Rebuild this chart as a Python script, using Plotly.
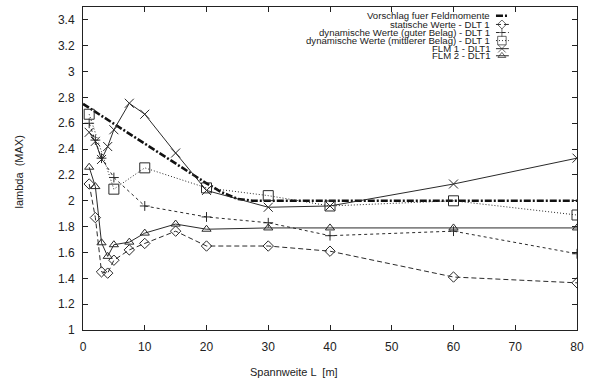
import plotly.graph_objects as go

# Spannweite L [m] for the measured series
span_x = [1, 2, 3, 4, 5, 7.5, 10, 15, 20, 30, 40, 60, 80]

# Proposed design curve for field moments
proposal_x = [0, 20, 22.5, 25, 27.5, 30, 40, 60, 80]
proposal_y = [2.75, 2.135, 2.065, 2.015, 2.0, 2.0, 2.0, 2.0, 2.0]

# static values DLT 1
static_y = [2.13, 1.87, 1.45, 1.44, 1.54, 1.62, 1.67, 1.765, 1.65, 1.65, 1.61, 1.41, 1.365]

# dynamic values, good pavement DLT 1
good_x = [1, 2, 3, 5, 10, 20, 30, 40, 60, 80]
good_y = [2.6, 2.47, 2.33, 2.18, 1.96, 1.875, 1.83, 1.73, 1.765, 1.59]

# dynamic values, medium pavement DLT 1
medium_x = [1, 5, 10, 20, 30, 40, 60, 80]
medium_y = [2.67, 2.09, 2.255, 2.10, 2.04, 1.96, 2.0, 1.89]

# FLM 1 and FLM 2
flm1_y = [2.53, 2.46, 2.32, 2.42, 2.55, 2.755, 2.67, 2.37, 2.08, 1.95, 1.96, 2.13, 2.33]
flm2_y = [2.26, 2.11, 1.675, 1.57, 1.66, 1.68, 1.75, 1.82, 1.78, 1.79, 1.79, 1.79, 1.79]

legend_labels = [
    "Vorschlag fuer Feldmomente",
    "statische Werte - DLT 1",
    "dynamische Werte (guter Belag) - DLT 1",
    "dynamische Werte (mittlerer Belag) - DLT 1",
    "FLM 1 - DLT1",
    "FLM 2 - DLT1",
]

x_ticks = [0, 10, 20, 30, 40, 50, 60, 70, 80]
y_ticks = [1, 1.2, 1.4, 1.6, 1.8, 2, 2.2, 2.4, 2.6, 2.8, 3, 3.2, 3.4]

INK = "#2a2a2a"
FONT = "Liberation Sans, Arial, sans-serif"

styles = [
    dict(line=dict(color="#111111", width=2.6, dash="7px,2px,2px,2px"), symbol=None, size=0),
    dict(line=dict(color=INK, width=1, dash="5px,3px"), symbol="diamond-open", size=8),
    dict(line=dict(color=INK, width=1, dash="3px,3px"), symbol="cross-thin-open", size=7),
    dict(line=dict(color=INK, width=1, dash="1px,2px"), symbol="square-open", size=10),
    dict(line=dict(color=INK, width=1), symbol="x-thin-open", size=9),
    dict(line=dict(color=INK, width=1), symbol="triangle-up-open", size=8),
]

series = [
    (proposal_x, proposal_y),
    (span_x, static_y),
    (good_x, good_y),
    (medium_x, medium_y),
    (span_x, flm1_y),
    (span_x, flm2_y),
]

fig = go.Figure()

for (xs, ys), st, name in zip(series, styles, legend_labels):
    if st["symbol"] is None:
        fig.add_trace(go.Scatter(x=xs, y=ys, mode="lines", name=name,
                                 line=st["line"], showlegend=False))
    else:
        fig.add_trace(go.Scatter(
            x=xs, y=ys, mode="lines+markers", name=name, line=st["line"],
            marker=dict(symbol=st["symbol"], size=st["size"],
                        color=INK, line=dict(color=INK, width=1)),
            showlegend=False))

# Key in the upper right: right-aligned text with a short sample after it
key_rows_y = [0.973, 0.946, 0.921, 0.896, 0.871, 0.849]
key_text_x = 0.826
key_line_x = [0.836, 0.848, 0.862]
for label, st, ky in zip(legend_labels, styles, key_rows_y):
    fig.add_annotation(x=key_text_x, y=ky, xref="paper", yref="paper",
                       text=label, showarrow=False, xanchor="right",
                       yanchor="middle", borderpad=0,
                       font=dict(family=FONT, size=9.6, color="#222"))
    sizes = [0, st["size"] * 0.85, 0]
    fig.add_trace(go.Scatter(
        x=key_line_x, y=[ky] * 3, xaxis="x2", yaxis="y2",
        mode="lines" if st["symbol"] is None else "lines+markers",
        line=dict(color=st["line"]["color"], width=st["line"]["width"],
                  dash=st["line"].get("dash", "solid")),
        marker=dict(symbol=st["symbol"] or "circle", size=sizes,
                    color=INK, line=dict(color=INK, width=1)),
        showlegend=False, hoverinfo="skip"))

axis_common = dict(
    showline=True, linecolor="#222", linewidth=1, mirror="ticks",
    ticks="inside", ticklen=5, tickcolor="#222", tickwidth=1,
    showgrid=False, zeroline=False, ticklabeloverflow="allow",
    tickfont=dict(family=FONT, size=12, color="#222"),
)

fig.update_layout(
    width=590, height=385,
    margin=dict(l=83, r=6, t=6, b=55),
    paper_bgcolor="white", plot_bgcolor="white",
    xaxis=dict(range=[0, 80], tickvals=x_ticks, ticklabelstandoff=6, **axis_common),
    yaxis=dict(range=[1, 3.5], tickvals=y_ticks, ticklabelstandoff=5, **axis_common),
    xaxis2=dict(range=[0, 1], overlaying="x", visible=False, fixedrange=True),
    yaxis2=dict(range=[0, 1], overlaying="y", visible=False, fixedrange=True),
    showlegend=False,
)

# Axis titles
fig.add_annotation(x=0.427, y=-0.13, xref="paper", yref="paper",
                   text="Spannweite L  [m]", showarrow=False,
                   xanchor="center", yanchor="middle",
                   font=dict(family=FONT, size=11, color="#222"))
fig.add_annotation(x=-0.13, y=0.49, xref="paper", yref="paper",
                   text="lambda  (MAX)", showarrow=False, textangle=-90,
                   xanchor="center", yanchor="middle",
                   font=dict(family=FONT, size=11, color="#222"))

fig.write_html("out.html")
